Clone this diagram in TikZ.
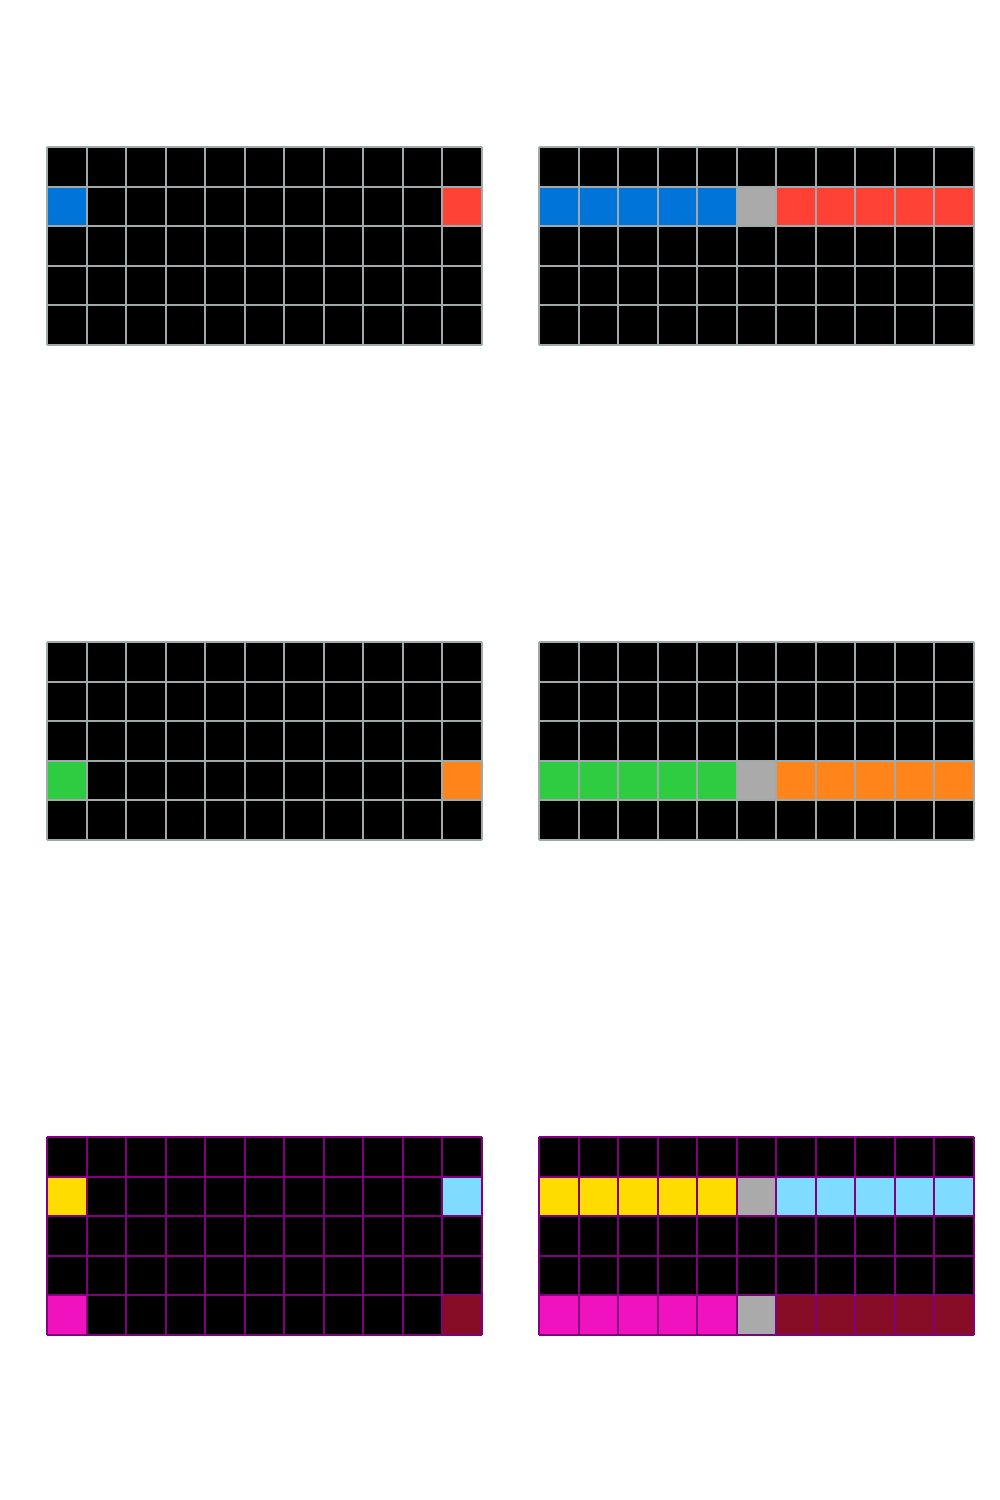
\documentclass[tikz,border=0pt]{standalone}
\usepackage{xcolor}
\usepackage{tikz}
\definecolor{arcblue}{HTML}{0074D9}
\definecolor{arcred}{HTML}{FF4136}
\definecolor{arcgreen}{HTML}{2ECC40}
\definecolor{arcorange}{HTML}{FF851B}
\definecolor{arcyellow}{HTML}{FFDC00}
\definecolor{arcsky}{HTML}{7FDBFF}
\definecolor{arcmagenta}{HTML}{F012BE}
\definecolor{arcmaroon}{HTML}{870C25}
\definecolor{arcgray}{HTML}{AAAAAA}
\definecolor{linegray}{HTML}{A0AAAA}
\definecolor{linepurple}{HTML}{800080}
\def\cw{39.5}
\def\ch{39.6}
% one cell: x0, y0, column, row, colour
\newcommand{\arccell}[5]{\fill[#5] ({#1+#3*\cw},{#2+#4*\ch}) rectangle ++(\cw,\ch);}
% background and lines of one 11x5 panel: x0, y0, line colour
\newcommand{\arcback}[2]{\fill[black] (#1,#2) rectangle ++({11*\cw},{5*\ch});}
\newcommand{\arclines}[3]{%
  \foreach \i in {0,...,11} \draw[gridline,#3] ({#1+\i*\cw},#2) -- ++(0,{5*\ch});
  \foreach \j in {0,...,5} \draw[gridline,#3] (#1,{#2+\j*\ch}) -- ++({11*\cw},0);}

\begin{document}
\begin{tikzpicture}[x=1pt,y=-1pt,gridline/.style={line width=2pt}]
  \useasboundingbox[fill=white] (0,0) rectangle (1000,1500);

  % pair 1
  \arcback{47}{147}
  \arccell{47}{147}{0}{1}{arcblue}
  \arccell{47}{147}{10}{1}{arcred}
  \arclines{47}{147}{linegray}
  \arcback{539}{147}
  \foreach \c in {0,...,4} \arccell{539}{147}{\c}{1}{arcblue};
  \arccell{539}{147}{5}{1}{arcgray}
  \foreach \c in {6,...,10} \arccell{539}{147}{\c}{1}{arcred};
  \arclines{539}{147}{linegray}

  % pair 2
  \arcback{47}{642}
  \arccell{47}{642}{0}{3}{arcgreen}
  \arccell{47}{642}{10}{3}{arcorange}
  \arclines{47}{642}{linegray}
  \arcback{539}{642}
  \foreach \c in {0,...,4} \arccell{539}{642}{\c}{3}{arcgreen};
  \arccell{539}{642}{5}{3}{arcgray}
  \foreach \c in {6,...,10} \arccell{539}{642}{\c}{3}{arcorange};
  \arclines{539}{642}{linegray}

  % pair 3
  \arcback{47}{1137}
  \arccell{47}{1137}{0}{1}{arcyellow}
  \arccell{47}{1137}{10}{1}{arcsky}
  \arccell{47}{1137}{0}{4}{arcmagenta}
  \arccell{47}{1137}{10}{4}{arcmaroon}
  \arclines{47}{1137}{linepurple}
  \arcback{539}{1137}
  \foreach \c in {0,...,4} {\arccell{539}{1137}{\c}{1}{arcyellow} \arccell{539}{1137}{\c}{4}{arcmagenta}}
  \arccell{539}{1137}{5}{1}{arcgray}
  \arccell{539}{1137}{5}{4}{arcgray}
  \foreach \c in {6,...,10} {\arccell{539}{1137}{\c}{1}{arcsky} \arccell{539}{1137}{\c}{4}{arcmaroon}}
  \arclines{539}{1137}{linepurple}
\end{tikzpicture}
\end{document}
